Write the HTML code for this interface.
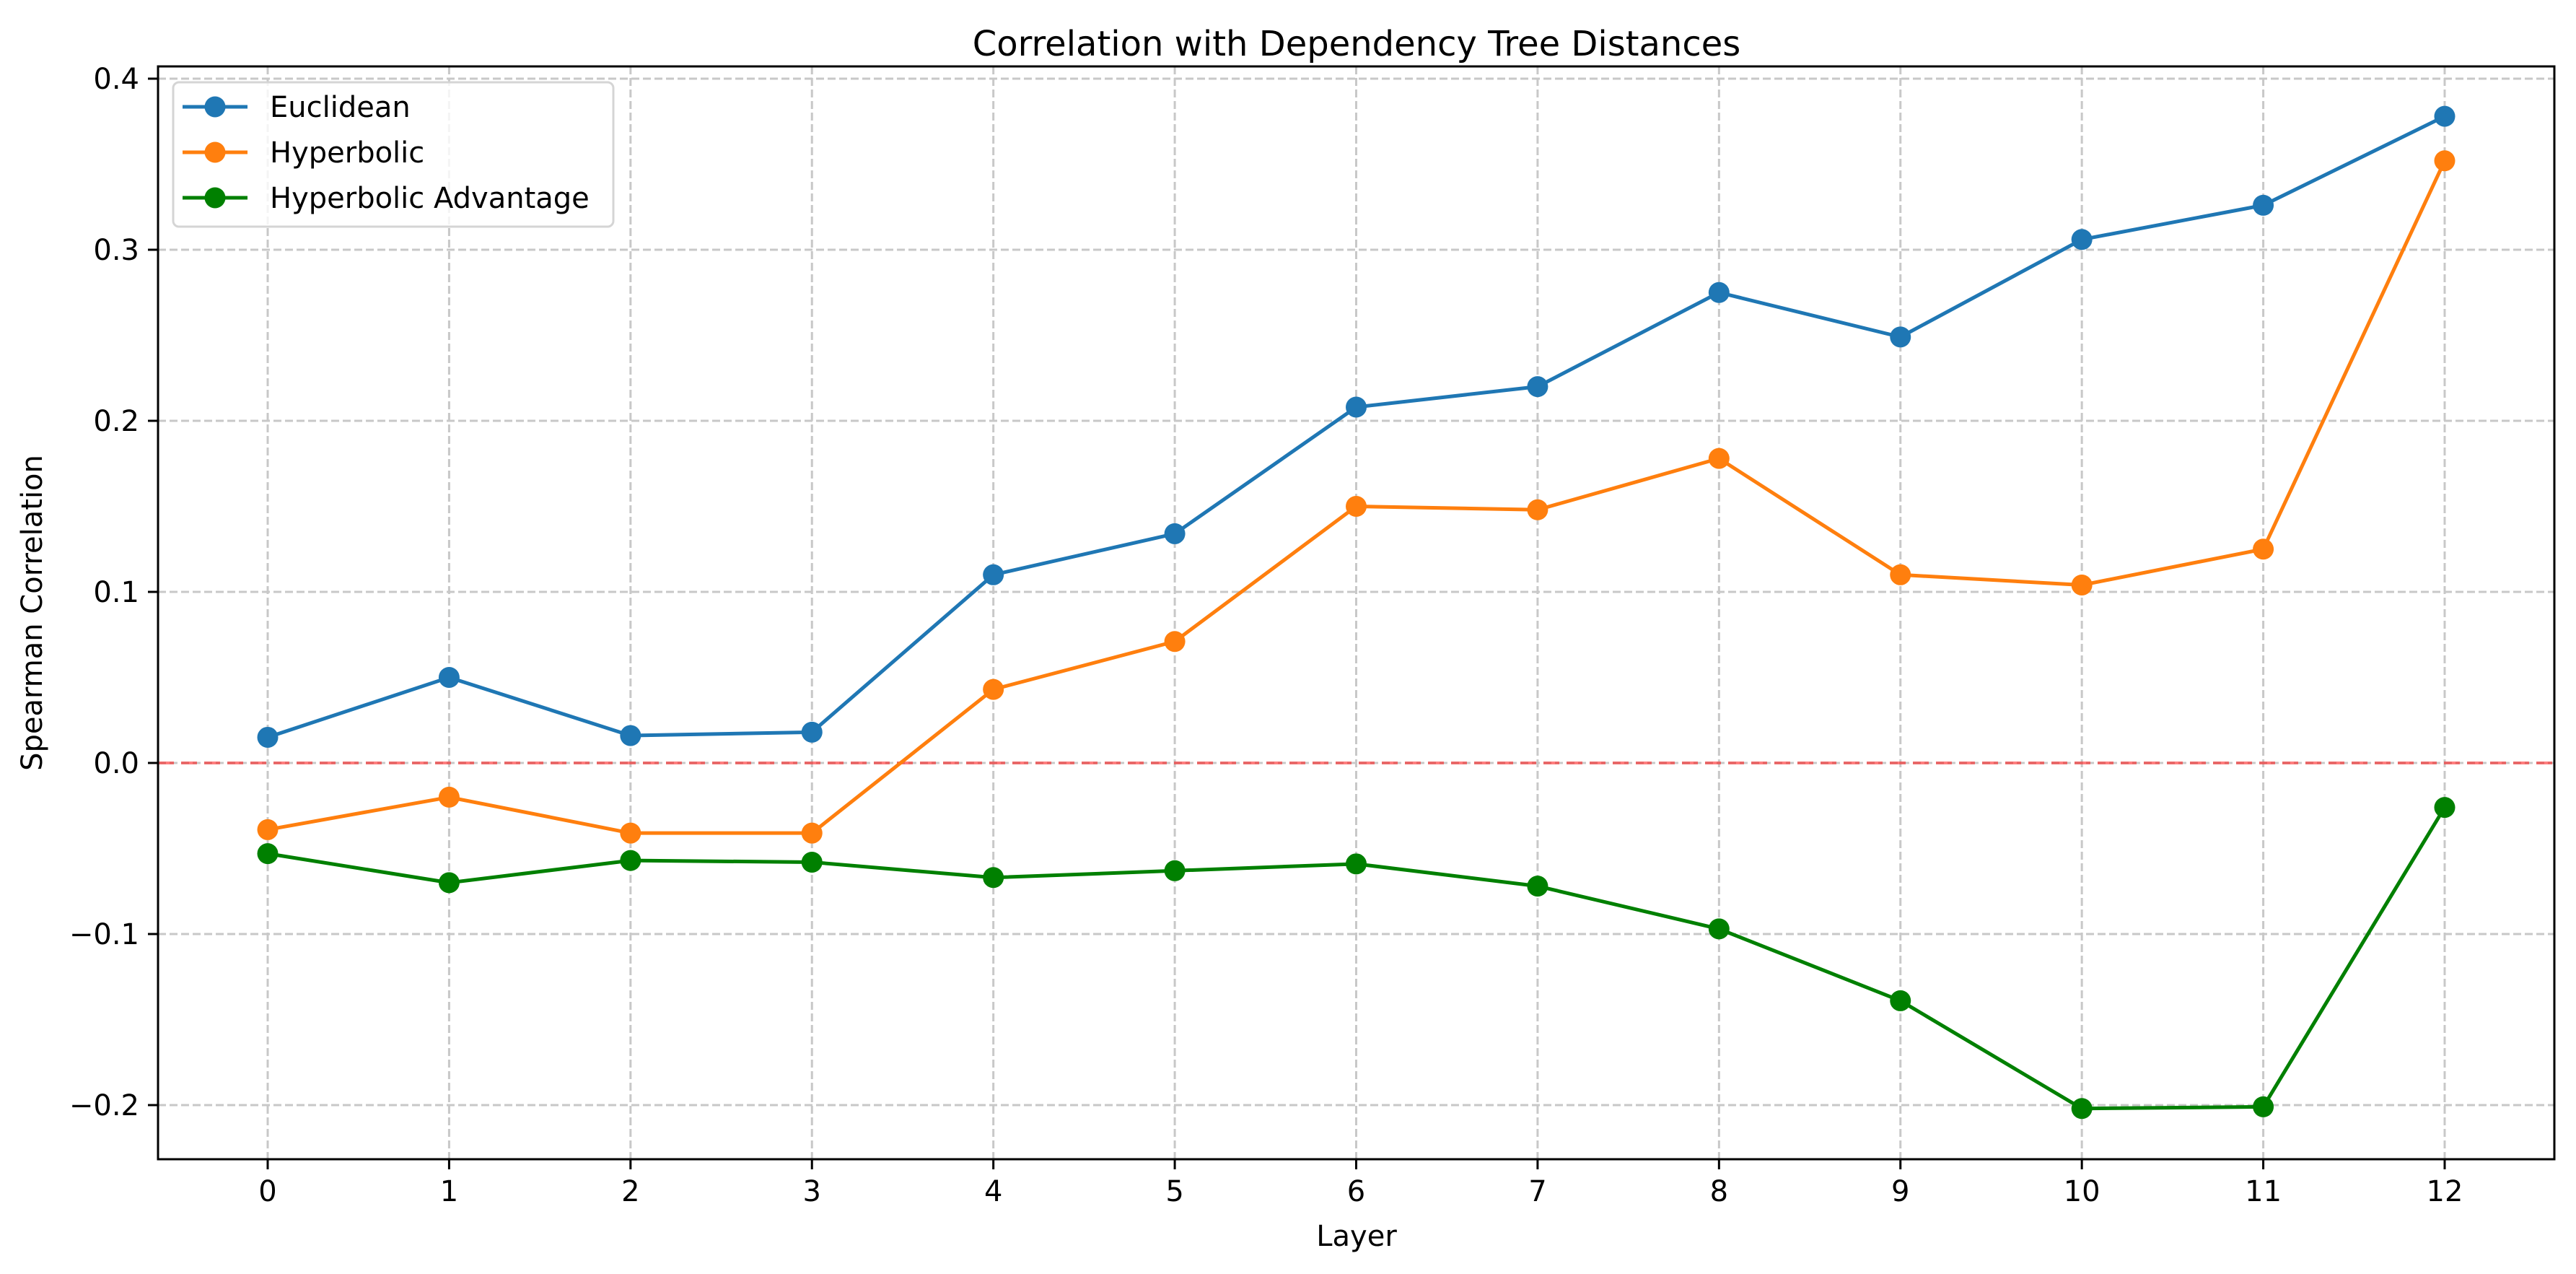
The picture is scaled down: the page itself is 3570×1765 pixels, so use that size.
<!DOCTYPE html>
<html><head><meta charset="utf-8"><style>
html,body{margin:0;padding:0;background:#fff;}
svg{display:block;font-family:"DejaVu Sans","Liberation Sans",sans-serif;}
</style></head><body>
<svg id="chart" width="3570" height="1765" viewBox="0 0 3570 1765" xmlns="http://www.w3.org/2000/svg">
<rect width="3570" height="1765" fill="#fff"/>
<g id="grid"></g>
<g id="zero"></g>
<g id="series"></g>
<g id="axes"></g>
<text x="1880" y="77" font-size="48" text-anchor="middle">Correlation with Dependency Tree Distances</text>
<text x="1880" y="1726" font-size="40" text-anchor="middle">Layer</text>
<text x="0" y="0" font-size="40" text-anchor="middle" transform="translate(58,849) rotate(-90)">Spearman Correlation</text>
<g id="legend"></g>
</svg>
<script>
const layers = [0,1,2,3,4,5,6,7,8,9,10,11,12];
const euclidean = [0.015,0.050,0.016,0.018,0.110,0.134,0.208,0.220,0.275,0.249,0.306,0.326,0.378];
const hyperbolic = [-0.039,-0.020,-0.041,-0.041,0.043,0.071,0.150,0.148,0.178,0.110,0.104,0.125,0.352];
const advantage = [-0.053,-0.070,-0.057,-0.058,-0.067,-0.063,-0.059,-0.072,-0.097,-0.139,-0.202,-0.201,-0.026];
const yTicks = [-0.2,-0.1,0.0,0.1,0.2,0.3,0.4];
const yTickLabels = ["\u22120.2","\u22120.1","0.0","0.1","0.2","0.3","0.4"];
const seriesNames = ["Euclidean","Hyperbolic","Hyperbolic Advantage"];

const NS="http://www.w3.org/2000/svg";
const L=219,R=3540,T=92,B=1606;
function xs(v){return 371+(v-0)*(3388-371)/12;}
function ys(v){return 1057-v*2370;}
function mk(tag,attrs,parent){const e=document.createElementNS(NS,tag);for(const k in attrs)e.setAttribute(k,attrs[k]);parent.appendChild(e);return e;}
const grid=document.getElementById('grid'),axes=document.getElementById('axes');
layers.forEach(l=>{
  const g=mk('line',{x1:xs(l),x2:xs(l),y1:T,y2:B,stroke:'#c8c8c8','stroke-width':3,'stroke-dasharray':'11,5'},grid);
  
  
  const t=mk('line',{x1:xs(l),x2:xs(l),y1:B,y2:B+14,stroke:'#000','stroke-width':3},axes);
  
  
  const tx=mk('text',{x:xs(l),y:B+58,'font-size':40,'text-anchor':'middle'},axes);
  tx.textContent=l;
  
  
});
yTicks.forEach((v,i)=>{
  const g=mk('line',{x1:L,x2:R,y1:ys(v),y2:ys(v),stroke:'#c8c8c8','stroke-width':3,'stroke-dasharray':'11,5'},grid);
  
  
  const t=mk('line',{x1:L-14,x2:L,y1:ys(v),y2:ys(v),stroke:'#000','stroke-width':3},axes);
  
  
  const tx=mk('text',{x:L-26,y:ys(v)+14,'font-size':40,'text-anchor':'end'},axes);
  tx.textContent=yTickLabels[i];
  
  
});
const z=mk('line',{x1:L,x2:R,y1:ys(0),y2:ys(0),stroke:'#ff0000','stroke-opacity':0.5,'stroke-width':4,'stroke-dasharray':'22,10'},document.getElementById('zero'));


const fr=mk('rect',{x:L,y:T,width:R-L,height:B-T,fill:'none',stroke:'#000','stroke-width':3},axes);



const colors=['#1f77b4','#ff7f0e','#008000'];
const data=[euclidean,hyperbolic,advantage];
const sg=document.getElementById('series');
data.forEach((arr,si)=>{
  const g=mk('g',{},sg);
  
  
  const pl=mk('polyline',{points:arr.map((v,i)=>xs(layers[i])+','+ys(v)).join(' '),fill:'none',stroke:colors[si],'stroke-width':5,'stroke-linejoin':'round'},g);
  
  
  arr.forEach((v,i)=>{
    const c=mk('circle',{cx:xs(layers[i]),cy:ys(v),r:14.5,fill:colors[si]},g);
    
    
  });
});
const lg=document.getElementById('legend');
const lb=mk('rect',{x:240,y:114,width:610,height:200,rx:8,fill:'#fff','fill-opacity':0.8,stroke:'#d5d5d5','stroke-width':3},lg);


seriesNames.forEach((n,i)=>{
  const y=148+i*63;
  const e=mk('g',{},lg);
  
  
  mk('line',{x1:253,x2:343,y1:y,y2:y,stroke:colors[i],'stroke-width':5},e);
  mk('circle',{cx:298,cy:y,r:14.5,fill:colors[i]},e);
  const t=mk('text',{x:374,y:y+14,'font-size':40},e);
  t.textContent=n;
});
</script>
</body></html>
